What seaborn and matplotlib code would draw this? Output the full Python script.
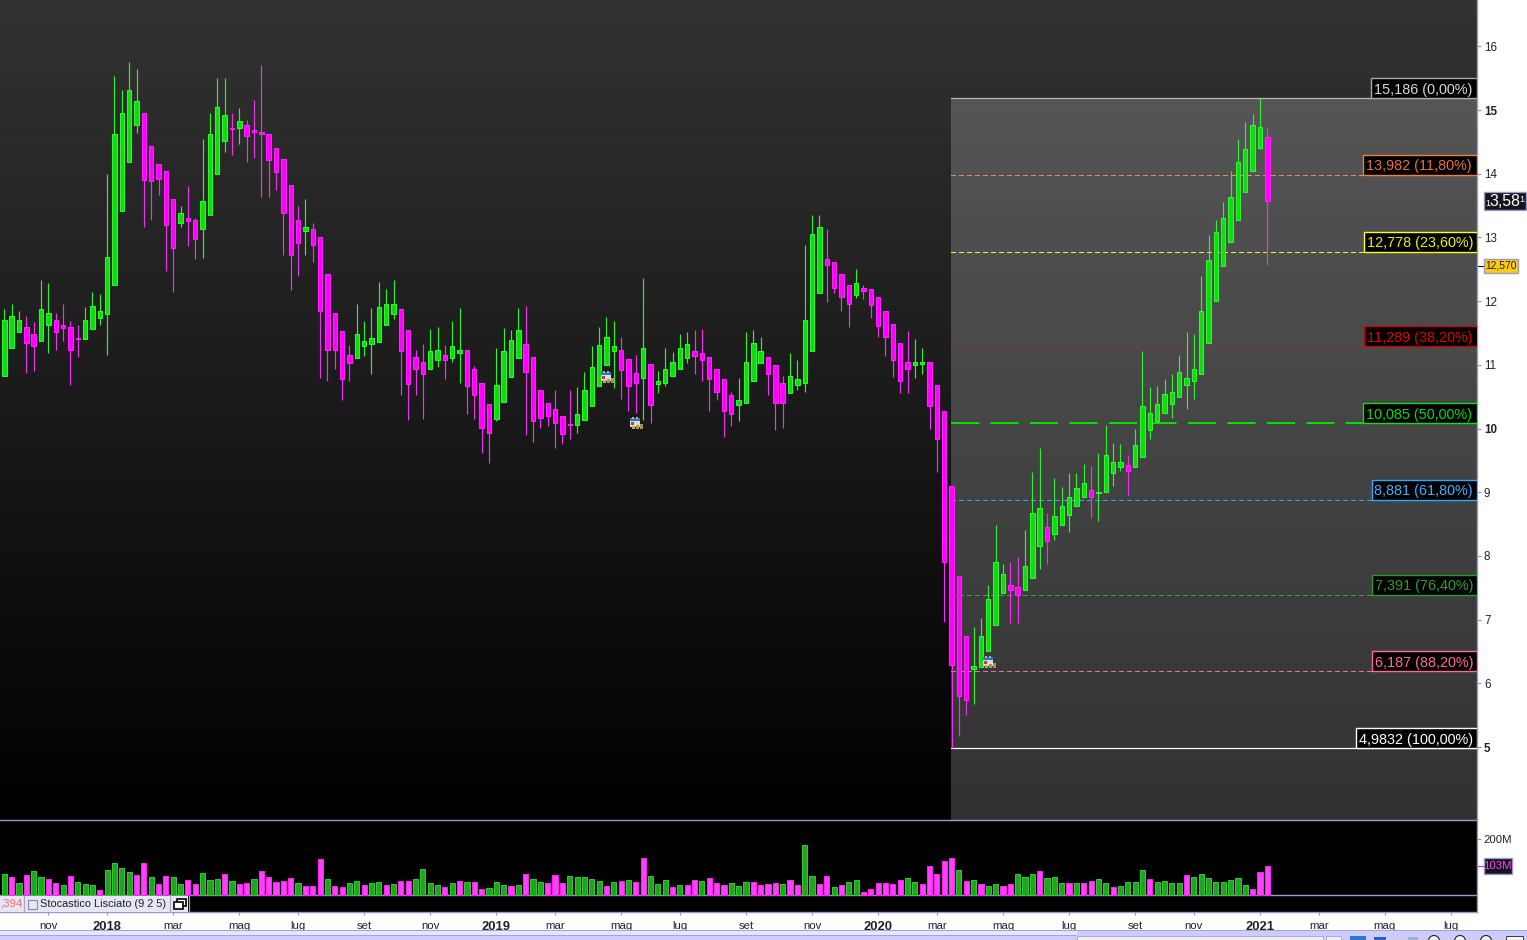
"""Weekly candlestick chart with Fibonacci levels and volume panel."""

import numpy as np
import pandas as pd
import matplotlib
matplotlib.use("Agg")
import matplotlib.pyplot as plt
from matplotlib.patches import Rectangle, Circle
import seaborn as sns

# ── Data ───────────────────────────────────────────────────────────────────────
opens = [
    10.82, 11.26, 11.51, 11.60, 11.48, 11.38, 11.62, 11.71, 11.62, 11.59,
    11.42, 11.40, 11.56, 11.74, 11.79, 12.25, 13.42, 14.19, 14.76, 14.95,
    14.43, 14.15, 14.04, 13.61, 13.22, 13.30, 13.27, 13.13, 13.35, 13.99,
    14.51, 14.71, 14.71, 14.77, 14.68, 14.66, 14.63, 14.41, 14.23, 13.82,
    13.27, 13.10, 13.13, 13.00, 12.42, 11.82, 11.53, 11.15, 11.10, 11.29,
    11.33, 11.36, 11.63, 11.79, 11.87, 11.54, 11.12, 11.04, 10.94, 11.07,
    11.15, 11.11, 11.19, 11.23, 10.94, 10.72, 10.38, 10.15, 10.41, 10.81,
    11.10, 11.32, 11.12, 10.61, 10.40, 10.30, 10.19, 10.07, 10.06, 10.14,
    10.36, 10.66, 10.99, 11.21, 11.24, 11.09, 10.87, 10.80, 11.02, 10.70,
    10.72, 10.83, 10.94, 11.10, 11.21, 11.18, 11.12, 10.94, 10.77, 10.52,
    10.37, 10.40, 10.74, 11.03, 11.13, 10.99, 10.71, 10.55, 10.69, 10.72,
    11.21, 12.13, 12.66, 12.61, 12.42, 12.25, 12.10, 12.20, 12.19, 12.06,
    11.84, 11.64, 11.35, 11.04, 10.99, 11.02, 11.04, 10.69, 10.27, 9.09,
    7.68, 6.74, 6.23, 6.25, 6.50, 6.91, 7.41, 7.55, 7.51, 7.46,
    7.65, 8.15, 8.45, 8.34, 8.48, 8.64, 8.78, 8.92, 9.04, 8.98,
    9.00, 9.30, 9.39, 9.42, 9.39, 9.56, 9.97, 10.11, 10.24, 10.39,
    10.49, 10.69, 10.74, 10.85, 11.35, 12.00, 12.55, 12.92, 13.28, 13.72,
    14.05, 14.40, 14.57,
]
closes = [
    11.70, 11.76, 11.70, 11.35, 11.29, 11.87, 11.81, 11.52, 11.57, 11.24,
    11.40, 11.71, 11.93, 11.85, 12.70, 14.62, 14.96, 15.32, 15.14, 13.90,
    13.88, 13.91, 13.20, 12.83, 13.38, 13.25, 12.97, 13.57, 14.62, 15.04,
    14.92, 14.70, 14.82, 14.59, 14.65, 14.62, 14.21, 14.02, 13.39, 12.73,
    12.91, 13.16, 12.88, 11.84, 11.23, 11.23, 10.78, 11.03, 11.48, 11.37,
    11.42, 11.90, 11.96, 11.95, 11.21, 10.70, 10.94, 10.86, 11.21, 11.23,
    11.07, 11.29, 11.24, 10.66, 10.52, 10.01, 9.93, 10.68, 11.21, 11.39,
    11.54, 10.89, 10.11, 10.17, 10.19, 10.09, 9.92, 10.06, 10.22, 10.60,
    10.96, 11.31, 11.43, 11.29, 10.92, 10.66, 10.72, 11.26, 10.37, 10.74,
    10.94, 11.04, 11.27, 11.32, 11.14, 11.07, 10.78, 10.58, 10.28, 10.22,
    10.44, 11.05, 11.34, 11.21, 10.86, 10.40, 10.40, 10.82, 10.77, 11.71,
    13.05, 13.17, 12.56, 12.21, 12.07, 11.96, 12.28, 12.16, 11.94, 11.61,
    11.43, 11.07, 10.74, 10.94, 11.05, 11.05, 10.36, 9.84, 7.90, 6.28,
    5.80, 5.73, 6.27, 6.75, 7.33, 7.90, 7.71, 7.47, 7.38, 7.84,
    8.67, 8.75, 8.24, 8.62, 8.79, 8.92, 9.06, 9.15, 8.92, 9.01,
    9.59, 9.48, 9.47, 9.34, 9.74, 10.36, 10.25, 10.38, 10.54, 10.58,
    10.88, 10.79, 10.94, 11.85, 12.64, 13.08, 13.30, 13.63, 14.18, 14.38,
    14.76, 14.74, 13.57,
]
highs = [
    11.87, 11.95, 11.84, 11.76, 11.67, 12.33, 12.28, 11.81, 11.95, 11.68,
    11.62, 11.90, 12.14, 12.11, 13.99, 15.53, 15.32, 15.75, 15.64, 14.95,
    14.43, 14.15, 14.04, 13.61, 13.50, 13.80, 13.31, 14.55, 14.96, 15.51,
    15.51, 14.96, 15.03, 14.85, 15.15, 15.70, 14.63, 14.41, 14.23, 13.82,
    13.49, 13.60, 13.22, 13.00, 12.42, 11.82, 11.53, 11.31, 11.95, 11.68,
    11.89, 12.30, 12.19, 12.33, 11.87, 11.54, 11.23, 11.32, 11.56, 11.59,
    11.31, 11.68, 11.89, 11.23, 10.98, 10.72, 10.38, 11.26, 11.57, 11.54,
    11.89, 11.93, 11.12, 10.61, 10.40, 10.60, 10.19, 10.60, 10.65, 10.88,
    11.29, 11.60, 11.75, 11.68, 11.43, 11.09, 11.16, 12.37, 11.02, 10.91,
    11.27, 11.20, 11.49, 11.51, 11.54, 11.56, 11.13, 10.94, 10.77, 10.58,
    10.79, 11.51, 11.54, 11.43, 11.13, 10.99, 10.82, 11.18, 11.07, 12.88,
    13.35, 13.35, 13.13, 12.61, 12.42, 12.25, 12.51, 12.26, 12.19, 12.06,
    11.84, 11.64, 11.35, 11.53, 11.41, 11.27, 11.04, 10.69, 10.27, 9.09,
    7.68, 6.74, 6.89, 7.03, 7.54, 8.48, 7.87, 7.91, 7.99, 8.40,
    9.31, 9.69, 8.67, 9.23, 9.08, 9.30, 9.30, 9.44, 9.41, 9.61,
    10.05, 9.78, 9.75, 9.58, 10.00, 11.21, 10.65, 10.67, 10.77, 10.85,
    11.16, 11.51, 11.48, 12.39, 13.03, 13.28, 13.55, 14.04, 14.55, 14.81,
    14.93, 15.186, 14.71,
]
lows = [
    10.82, 11.26, 11.51, 10.87, 10.90, 11.38, 11.19, 11.24, 11.38, 10.69,
    11.12, 11.40, 11.56, 11.62, 11.15, 12.25, 13.42, 14.19, 14.64, 13.17,
    13.27, 13.66, 12.48, 12.14, 13.16, 12.86, 12.66, 12.67, 13.35, 13.99,
    14.34, 14.29, 14.46, 14.19, 14.24, 13.64, 13.64, 13.74, 12.73, 12.17,
    12.40, 12.72, 12.62, 10.79, 10.74, 10.94, 10.44, 10.74, 11.10, 11.14,
    10.86, 11.36, 11.63, 11.72, 10.53, 10.14, 10.52, 10.15, 10.94, 10.97,
    10.77, 11.05, 10.72, 10.22, 10.15, 9.62, 9.46, 10.12, 10.41, 10.81,
    11.10, 9.90, 9.79, 10.01, 10.04, 9.70, 9.76, 9.83, 9.93, 10.14,
    10.36, 10.66, 10.99, 10.64, 10.47, 10.28, 10.25, 10.14, 10.08, 10.55,
    10.66, 10.81, 10.94, 11.03, 10.85, 10.74, 10.28, 10.45, 9.87, 10.04,
    10.12, 10.40, 10.74, 11.03, 10.52, 9.97, 10.01, 10.55, 10.61, 10.58,
    11.21, 12.13, 11.98, 12.12, 11.85, 11.60, 12.05, 12.04, 11.74, 11.43,
    11.14, 10.81, 10.55, 10.55, 10.80, 10.85, 10.00, 9.31, 6.97, 4.98,
    5.18, 5.51, 5.67, 6.25, 6.50, 6.91, 7.41, 6.94, 6.94, 7.46,
    7.65, 7.79, 7.88, 8.25, 8.48, 8.38, 8.78, 8.92, 8.59, 8.55,
    9.00, 9.09, 9.34, 8.95, 9.39, 9.56, 9.84, 10.11, 10.24, 10.17,
    10.49, 10.30, 10.47, 10.85, 11.35, 12.00, 12.55, 12.92, 13.28, 13.72,
    14.05, 14.38, 12.56,
]
volumes = [
    75, 64, 43, 71, 85, 64, 57, 43, 36, 68,
    46, 39, 36, 18, 89, 114, 96, 82, 71, 114,
    64, 39, 68, 64, 39, 53, 39, 78, 53, 57,
    75, 50, 39, 43, 57, 85, 64, 46, 50, 60,
    43, 32, 32, 128, 57, 32, 28, 43, 50, 36,
    43, 46, 36, 39, 50, 50, 57, 92, 43, 36,
    28, 43, 50, 46, 46, 21, 25, 46, 36, 32,
    36, 75, 57, 46, 43, 71, 43, 68, 64, 64,
    57, 50, 32, 46, 50, 53, 46, 132, 68, 39,
    53, 28, 36, 36, 53, 50, 60, 43, 36, 43,
    32, 46, 46, 36, 39, 43, 39, 53, 36, 178,
    68, 39, 68, 28, 36, 46, 53, 11, 21, 43,
    43, 39, 53, 60, 46, 39, 103, 75, 121, 132,
    89, 50, 53, 39, 32, 39, 32, 39, 75, 64,
    75, 85, 60, 64, 43, 43, 43, 43, 50, 57,
    43, 28, 32, 46, 46, 89, 57, 46, 50, 43,
    43, 71, 64, 75, 60, 46, 46, 53, 60, 36,
    21, 82, 103,
]
volume_sides = list(
    "GMGMGGMMGM" "GGGMGGGGMM" "GMMGGMMGGG" "MGMMGMMMMM" "GMMMGMMGGM"
    "GGMGMMGGGG" "MGMGMMGGGM" "GMGGMMMGGG" "GGMGMGMMGG" "GMGMMGMMMG"
    "GGMMMMGMMG" "GMMGMGGMMM" "MMMGGMMMMM" "GMGMGGMMGG" "GMGGGMGMMG"
    "GMGGGGMGGG" "GMGGGGGGGG" "MMM"
)

tick_weeks = [6, 14, 23, 32, 40, 49, 58, 67, 75, 84, 92, 101, 110, 119, 127, 136,
              145, 154, 162, 171, 179, 188, 197]
tick_names = ["nov", "2018", "mar", "mag", "lug", "set", "nov", "2019", "mar", "mag",
              "lug", "set", "nov", "2020", "mar", "mag", "lug", "set", "nov", "2021",
              "mar", "mag", "lug"]
price_ticks = [5, 6, 7, 8, 9, 10, 11, 12, 13, 14, 15, 16]

fib_levels = [15.186, 13.982, 12.778, 11.289, 10.085, 8.881, 7.391, 6.187, 4.9832]
fib_labels = ["15,186 (0,00%)", "13,982 (11,80%)", "12,778 (23,60%)", "11,289 (38,20%)",
              "10,085 (50,00%)", "8,881 (61,80%)", "7,391 (76,40%)", "6,187 (88,20%)",
              "4,9832 (100,00%)"]
fib_text = ["#d8d8d8", "#e8703a", "#f0f000", "#e00000", "#00dd00", "#40b0ff", "#2aa02a",
            "#ff6a9a", "#ffffff"]
fib_edge = ["#a8a8a8", "#e8804a", "#ffff20", "#cc0000", "#10e010", "#30a8ff", "#2a9a2a",
            "#ff6a9a", "#ffffff"]
fib_line = ["#b8b8b8", "#e8906a", "#f8f800", "#b02020", "#00e000", "#30a8ff", "#3aa83a",
            "#ff60a8", "#ffffff"]
fib_left = [1371, 1363, 1364, 1364, 1363, 1372, 1372, 1372, 1356]

# ── Geometry (pixels of the 1527x940 picture) ──────────────────────────────────
W, H = 1527, 940
PANEL_R = 1477
X0, DX = 4.33, 7.343          # first candle, candle spacing
Y5, DY = 747.0, 63.7          # pixel row of price 5, pixels per unit
VOL_BASE, VOL_K = 895.0, 0.2813


def px_to_idx(px):
    return (px - X0) / DX


def frame(ax, df, height, bottom, fill, edge, z):
    sns.barplot(data=df.assign(h=height), x="i", y="h", bottom=bottom, native_scale=True,
                color=fill, saturation=1, edgecolor=edge, linewidth=0.8, width=0.6,
                errorbar=None, zorder=z, ax=ax)


sns.set_theme(style="dark", rc={"axes.facecolor": "black", "figure.facecolor": "white"})
plt.rcParams["font.family"] = ["Liberation Sans", "DejaVu Sans"]

fig = plt.figure(figsize=(W / 100, H / 100), dpi=100)
ax = fig.add_axes([0, (H - 820) / H, PANEL_R / W, 820 / H])
vax = fig.add_axes([0, (H - 912) / H, PANEL_R / W, 92 / H])

df = pd.DataFrame({"i": np.arange(len(opens)), "o": opens, "c": closes, "h": highs,
                   "l": lows, "v": volumes, "side": volume_sides})

xlim = (px_to_idx(0), px_to_idx(PANEL_R))
ylim = (5 + (Y5 - 820) / DY, 5 + Y5 / DY)

# ── Background gradient and Fibonacci zone ─────────────────────────────────────
grad = np.linspace(0.2, 0.0, 256).reshape(-1, 1)
ax.imshow(grad, cmap="gray", vmin=0, vmax=1, aspect="auto", zorder=0,
          extent=(xlim[0], xlim[1], ylim[0], ylim[1]), origin="upper")
fib_x0 = px_to_idx(951)
ax.add_patch(Rectangle((fib_x0, ylim[0]), xlim[1] - fib_x0, fib_levels[0] - ylim[0],
                       facecolor="white", alpha=0.195, edgecolor="none", zorder=0.5))

for k, (lvl, col) in enumerate(zip(fib_levels, fib_line)):
    if k in (0, 8):
        style, lw, smooth = "-", 0.9, True
    elif k == 4:
        style, lw, smooth = (0, (14, 5.6)), 1.45, True
    else:
        # thin dashes stay crisp and keep their full colour without antialiasing
        style, lw, smooth = (0, (5, 3.4)), 0.72, False
    ax.plot([fib_x0, xlim[1]], [lvl, lvl], color=col, lw=lw, ls=style, zorder=0.8,
            antialiased=smooth)

# ── Candles ────────────────────────────────────────────────────────────────────
up = df[df["c"] >= df["o"]]
down = df[df["c"] < df["o"]]
ax.vlines(up["i"], up["l"], up["h"], color="#30f030", lw=0.85, zorder=1)
ax.vlines(down["i"], down["l"], down["h"], color="#f030f0", lw=0.85, zorder=1)
frame(ax, up, (up["c"] - up["o"]).to_numpy(), up["o"].to_numpy(), "#0fdc0f", "#30f530", 2)
frame(ax, down, (down["o"] - down["c"]).to_numpy(), down["c"].to_numpy(), "#ff00ff", "#ff20ff", 2)

for k, lvl in enumerate(fib_levels):
    left = px_to_idx(fib_left[k])
    ax.add_patch(Rectangle((left, lvl), xlim[1] - left - 0.05, 20 / DY, facecolor="black",
                           edgecolor=fib_edge[k], lw=1.0, zorder=3))
    ax.text((left + xlim[1]) / 2 - 0.1, lvl + 10 / DY, fib_labels[k], color=fib_text[k], fontsize=10.4,
            ha="center", va="center_baseline", zorder=4)

ax.set_xlim(xlim)
ax.set_ylim(ylim)
ax.set_xlabel("")
ax.set_ylabel("")
ax.set_xticks([])
ax.yaxis.tick_right()
ax.set_yticks(price_ticks)
ax.set_yticklabels([str(t) for t in price_ticks], fontsize=8.4, color="#222222")
for lab, t in zip(ax.get_yticklabels(), price_ticks):
    if t in (5, 10, 15):
        lab.set_fontweight("bold")
ax.tick_params(axis="y", length=3.2, width=0.8, color="#9090b8", pad=1.8, right=True)
for name, sp in ax.spines.items():
    sp.set_visible(name == "right")
    sp.set_color("#9a9ac4")
    sp.set_linewidth(1)

# ── Volume ─────────────────────────────────────────────────────────────────────
for side, fill, edge in [("G", "#1fa51f", "#30c830"), ("M", "#ff40ff", "#ff20f0")]:
    sub = df[df["side"] == side]
    sns.barplot(data=sub, x="i", y="v", native_scale=True, color=fill, saturation=1,
                edgecolor=edge, linewidth=0.72, width=0.7, errorbar=None, zorder=2, ax=vax)
vax.axhline(0, color="#9a9ac4", lw=1, zorder=1)
vax.set_xlim(xlim)
vax.set_ylim((VOL_BASE - 912) / VOL_K, (VOL_BASE - 820) / VOL_K)
vax.set_xlabel("")
vax.set_ylabel("")
vax.set_xticks(tick_weeks)
vax.set_xticklabels(tick_names, fontsize=8.2, color="#222222")
for lab, name in zip(vax.get_xticklabels(), tick_names):
    if name.startswith("20"):
        lab.set_fontweight("bold")
        lab.set_fontsize(9.4)
vax.tick_params(axis="x", length=2.2, width=0.8, color="#9090b8", pad=4, bottom=True)
vax.yaxis.tick_right()
vax.set_yticks([200])
vax.set_yticklabels(["200M"], fontsize=8.2, color="#222222")
vax.tick_params(axis="y", length=3.2, width=0.8, color="#9090b8", pad=1.5, right=True)
for name, sp in vax.spines.items():
    sp.set_visible(name in ("right", "bottom", "top"))
    sp.set_color("#9a9ac4")
    sp.set_linewidth(1)

# ── Overlay: badges, legend tab, icons, window bottom ──────────────────────────
ov = fig.add_axes([0, 0, 1, 1], facecolor="none")
ov.set_xlim(0, W)
ov.set_ylim(H, 0)
ov.axis("off")


def box(x0, y0, x1, y1, fc, ec="none", lw=0.0, z=5):
    ov.add_patch(Rectangle((x0, y0), x1 - x0, y1 - y0, facecolor=fc, edgecolor=ec, lw=lw, zorder=z))


def label(x, y, s, color="#222222", size=8.2, ha="left", **kw):
    ov.text(x, y, s, color=color, fontsize=size, ha=ha, va="center", zorder=7, **kw)


# last price badges
box(1483.5, 192, 1525.5, 210, "#14141c", "#9a9ac4", 1.0)
label(1485, 203, "1", "white", 6.6)
label(1489.5, 201, "3,58", "white", 11.4)
label(1519, 199, "1", "white", 6.6)
box(1483.5, 259, 1518, 273, "#ffcc10", "#9a9ac4", 1.0)
label(1500.8, 266, "12,570", "#202000", 7.4, ha="center")
ov.plot([1478, 1483], [266, 266], color="#111111", lw=0.8, zorder=5)
box(1483.5, 858, 1512, 874, "#14141c", "#9a9ac4", 1.0)
label(1497.8, 866, "103M", "#ff40ff", 8.2, ha="center")
ov.plot([1478, 1483], [866, 866], color="#d030d0", lw=0.9, zorder=5)

# legend tab on the volume panel
box(0, 896, 188, 912, "#e6e6f6", "none")
ov.plot([23.5, 23.5], [896, 912], color="#a8a8cc", lw=0.9, zorder=6)
ov.plot([169.5, 169.5], [896, 912], color="#a8a8cc", lw=0.9, zorder=6)
ov.plot([188.5, 188.5], [896, 912], color="#a8a8cc", lw=0.9, zorder=6)
label(0, 904, ",394", "#f07070", 8.2)
box(27.5, 899.5, 36.5, 908.5, "#e6e6f6", "#8888a8", 0.8, z=6)
label(40, 904, "Stocastico Lisciato (9 2 5)", "#222222", 7.9)
box(176.5, 899, 186, 906, "white", "black", 1.2, z=6)
box(173.5, 902, 183, 909, "white", "black", 1.2, z=6)

# calendar + coins event icons
for ix, iy in [(606, 377), (635, 423), (988, 662)]:
    box(ix - 5.5, iy - 5, ix + 5, iy - 2, "#2a78b8", z=6)
    box(ix - 5.5, iy - 2, ix + 5, iy + 4, "#d8dce4", z=6)
    box(ix - 4, iy - 1, ix - 1.5, iy + 1.5, "#e03030", z=6)
    box(ix - 3.5, iy - 6.5, ix - 1.5, iy - 4.5, "#b0b0c0", z=6)
    box(ix + 1, iy - 6.5, ix + 3, iy - 4.5, "#b0b0c0", z=6)
    box(ix - 3.5, iy + 3, ix - 0.5, iy + 6, "#c8a850", z=6)
    box(ix + 0.5, iy + 2, ix + 3.5, iy + 6, "#b09840", z=6)
    box(ix + 4.5, iy + 0.5, ix + 7.5, iy + 6, "#a89050", z=6)

# window chrome along the bottom edge
box(0, 930, W, 931, "#a4a4cc", z=2)
box(0, 931, W, H, "#ccccff", z=2)
box(0, 931, 1077, 935, "#e6e6fa", z=2)
box(0, 935, 1077, 936, "#a4a4cc", z=2)
box(1077, 935.5, 1323, H, "#eeeef8", "#a4a4cc", 0.6, z=3)
box(1326, 935.5, 1341, H, "#eeeef8", "#a4a4cc", 0.6, z=3)
box(1350, 935.5, 1366, H, "#2a78c8", z=3)
box(1374, 937, 1386, H, "#2a60d0", z=3)
box(1408, 937, 1418, H, "#9ab0e0", z=3)
for cx in [1434, 1460, 1486]:
    ov.add_patch(Circle((cx, 941), 5.5, facecolor="#f4f4f4", edgecolor="#222222", lw=0.8, zorder=3))
box(1506, 936, 1523, H, "#f4f4f4", "#222222", 0.6, z=3)

fig.savefig("out.png", dpi=100, facecolor="white")
plt.close(fig)
